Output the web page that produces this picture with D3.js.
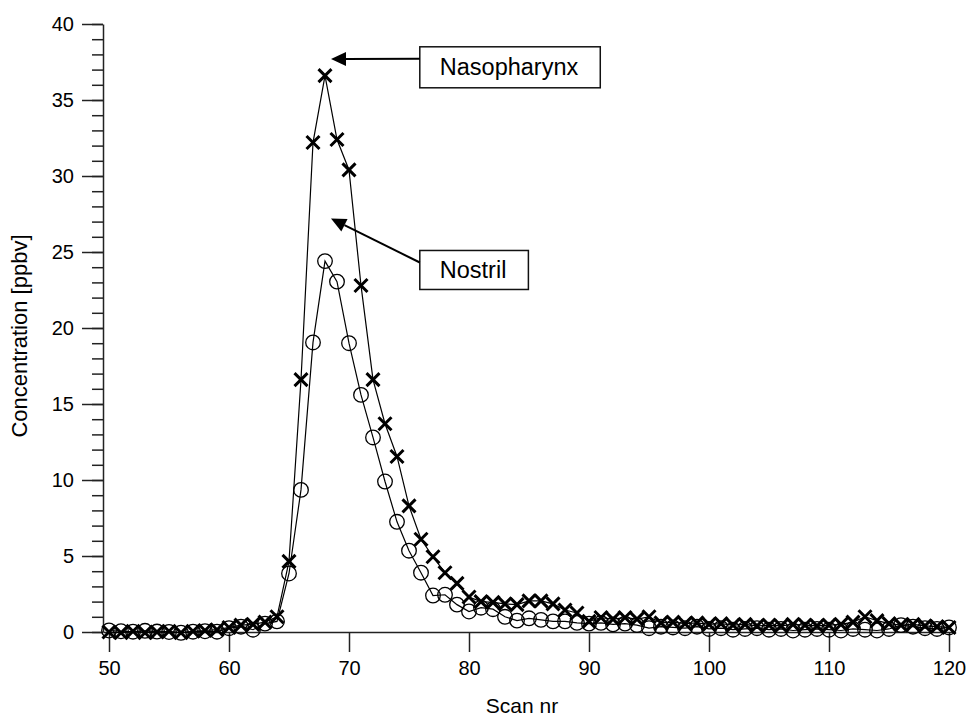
<!DOCTYPE html>
<html>
<head>
<meta charset="utf-8">
<script src="https://cdn.jsdelivr.net/npm/d3@7"></script>
<style>
  body { margin: 0; background: #fff; }
  svg text { font-family: "Liberation Sans", Arial, sans-serif; fill: #000; }
</style>
</head>
<body>
<svg id="chart" width="966" height="719"></svg>
<script>
// scan numbers
var scans = [50,51,52,53,54,55,56,57,58,59,60,61,62,63,64,65,66,67,68,69,70,
  71,72,73,74,75,76,77,78,79,80,81,82,83,84,85,86,87,88,89,90,
  91,92,93,94,95,96,97,98,99,100,101,102,103,104,105,106,107,108,109,110,
  111,112,113,114,115,116,117,118,119,120];

// Nostril (circles)
var nostril = [0.10,0.05,0.02,0.08,0.03,0.00,-0.05,0.02,0.05,0.02,0.25,
  0.35,0.15,0.55,0.70,3.85,9.35,19.05,24.40,23.05,19.00,
  15.60,12.80,9.90,7.25,5.35,3.90,2.40,2.45,1.80,1.35,
  1.60,1.50,1.00,0.75,0.90,0.80,0.70,0.70,0.60,0.55,
  0.60,0.50,0.55,0.45,0.25,0.35,0.30,0.25,0.35,0.20,
  0.25,0.15,0.20,0.25,0.15,0.20,0.10,0.15,0.20,0.15,
  0.10,0.20,0.15,0.10,0.20,0.45,0.35,0.25,0.20,0.30];

// Nasopharynx (crosses)
var nasopharynx = [0.00,-0.05,0.05,-0.05,0.00,0.05,-0.05,0.05,0.10,0.15,0.30,
  0.45,0.50,0.65,1.00,4.65,16.60,32.20,36.60,32.40,30.40,
  22.80,16.60,13.70,11.55,8.30,6.10,4.95,3.90,3.20,2.30,
  2.00,1.95,1.85,1.80,2.05,2.05,1.85,1.45,1.25,0.70,
  0.95,0.85,0.95,0.85,1.00,0.60,0.65,0.55,0.60,0.50,
  0.55,0.45,0.50,0.40,0.45,0.40,0.50,0.45,0.40,0.45,
  0.50,0.65,1.00,0.75,0.55,0.45,0.50,0.40,0.35,0.30];

var xTicks = [50,60,70,80,90,100,110,120];
var yTicks = [0,5,10,15,20,25,30,35,40];

// annotations: arrow tip and label box top-left, both in data coords
var notes = [
  {label: "Nasopharynx", tipX: 68.5, tipY: 37.7, boxX: 75.9, boxY: 38.5},
  {label: "Nostril",     tipX: 68.5, tipY: 27.2, boxX: 75.9, boxY: 25.1}
];

var svg = d3.select("#chart");

var x = d3.scaleLinear().domain([49.5, 120.5]).range([103, 955]);
var y = d3.scaleLinear().domain([0, 40]).range([632, 24]);

// y axis, minor then major
svg.append("g")
    .attr("transform", "translate(103,0)")
    .call(d3.axisLeft(y).ticks(40).tickSize(11).tickFormat(""))
    .call(function(g) { g.select(".domain").remove(); });

svg.append("g")
    .attr("transform", "translate(103,0)")
    .call(d3.axisLeft(y).tickValues(yTicks).tickSize(21).tickSizeOuter(0).tickPadding(8));

svg.append("g")
    .attr("transform", "translate(0,632)")
    .call(d3.axisBottom(x).tickValues(xTicks).tickSize(20).tickSizeOuter(0).tickPadding(9));

svg.selectAll(".tick line, .domain")
    .attr("stroke", "#222")
    .attr("stroke-width", 1.5);
svg.selectAll(".tick text")
    .attr("font-size", 20)
    .attr("font-family", "Liberation Sans, Arial, sans-serif");

// axis titles
svg.append("text")
    .attr("x", 522).attr("y", 713)
    .attr("text-anchor", "middle")
    .attr("font-size", 21)
    .text("Scan nr");

svg.append("text")
    .attr("transform", "translate(27,336) rotate(-90)")
    .attr("text-anchor", "middle")
    .attr("font-size", 22)
    .text("Concentration [ppbv]");

var line = d3.line()
    .x(function(d) { return x(d[0]); })
    .y(function(d) { return y(d[1]); });

var nostrilPts = scans.map(function(s, i) { return [s, nostril[i]]; });
var nasoPts = scans.map(function(s, i) { return [s, nasopharynx[i]]; });

// nostril series
svg.append("path")
    .datum(nostrilPts)
    .attr("d", line)
    .attr("fill", "none")
    .attr("stroke", "#000")
    .attr("stroke-width", 1.2);

svg.append("g")
    .selectAll("circle")
    .data(nostrilPts)
    .enter().append("circle")
      .attr("cx", function(d) { return x(d[0]); })
      .attr("cy", function(d) { return y(d[1]); })
      .attr("r", 7.3)
      .attr("fill", "none")
      .attr("stroke", "#000")
      .attr("stroke-width", 1.3);

// nasopharynx series
svg.append("path")
    .datum(nasoPts)
    .attr("d", line)
    .attr("fill", "none")
    .attr("stroke", "#000")
    .attr("stroke-width", 1.2);

var s = 6.5;
svg.append("g")
    .selectAll("path")
    .data(nasoPts)
    .enter().append("path")
      .attr("transform", function(d) { return "translate(" + x(d[0]) + "," + y(d[1]) + ")"; })
      .attr("d", "M" + (-s) + "," + (-s) + "L" + s + "," + s + "M" + (-s) + "," + s + "L" + s + "," + (-s))
      .attr("fill", "none")
      .attr("stroke", "#000")
      .attr("stroke-width", 3);

// annotations
var boxH = [41, 39];
notes.forEach(function(n, i) {
  var g = svg.append("g");
  var bx = x(n.boxX), by = y(n.boxY);
  var t = g.append("text")
      .attr("x", bx + 20)
      .attr("y", by + boxH[i] / 2 + 8)
      .attr("font-size", 23.5)
      .text(n.label);
  var w = t.node().getComputedTextLength() + 42;
  g.insert("rect", "text")
      .attr("x", bx).attr("y", by)
      .attr("width", w).attr("height", boxH[i])
      .attr("fill", "#fff")
      .attr("stroke", "#111")
      .attr("stroke-width", 1.5);

  var tx = x(n.tipX), ty = y(n.tipY);
  var sx = bx, sy = by + 12;
  var ang = Math.atan2(ty - sy, tx - sx);
  var hl = 15, hw = 7;
  var baseX = tx - hl * Math.cos(ang), baseY = ty - hl * Math.sin(ang);
  g.append("line")
      .attr("x1", sx).attr("y1", sy)
      .attr("x2", baseX).attr("y2", baseY)
      .attr("stroke", "#000")
      .attr("stroke-width", 2);
  var px = -Math.sin(ang), py = Math.cos(ang);
  g.append("path")
      .attr("d", "M" + tx + "," + ty +
        "L" + (baseX + hw * px) + "," + (baseY + hw * py) +
        "L" + (baseX - hw * px) + "," + (baseY - hw * py) + "Z")
      .attr("fill", "#000");
});
</script>
</body>
</html>
